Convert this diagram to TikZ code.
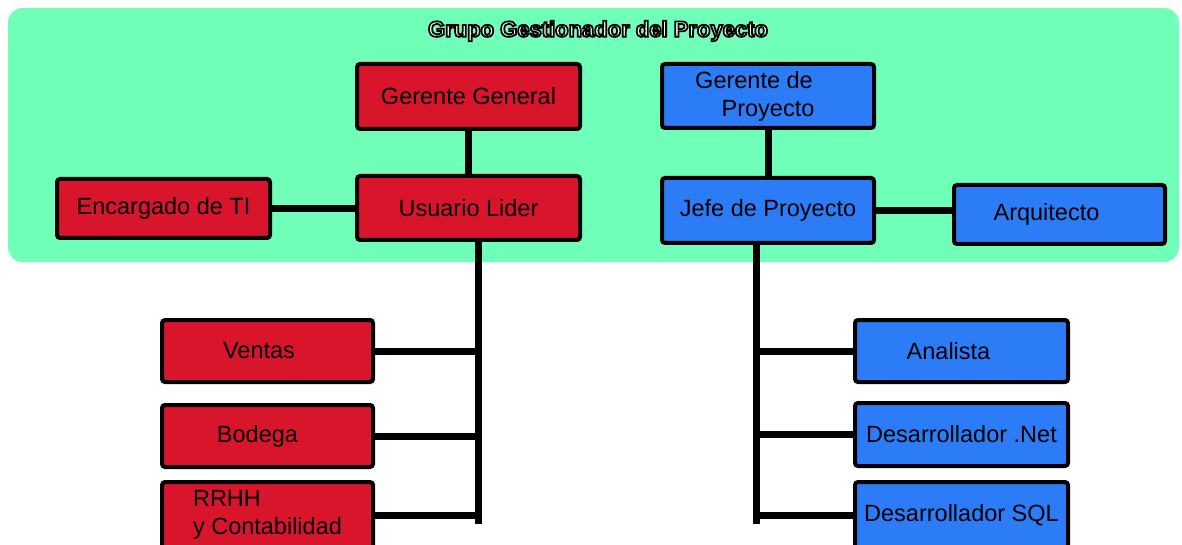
\documentclass[tikz,border=0pt]{standalone}
\usepackage{fontspec}
\setmainfont{Liberation Sans}
\newfontfamily\titlefont{Liberation Sans Bold}[RawFeature={embolden=8}]
\definecolor{grupo}{HTML}{6FFFB8}
\definecolor{rojo}{HTML}{D9152B}
\definecolor{azul}{HTML}{2B7CF6}

\begin{document}
\begin{tikzpicture}[x = 1pt, y = -1pt,
    box/.style = {draw = black, line width = 4pt, rounded corners = 3pt, inner sep = 0pt, align = center, font = \fontsize{23.5}{28}\selectfont},
    redbox/.style = {box, fill = rojo},
    bluebox/.style = {box, fill = azul},
    link/.style = {line width = 7pt}]
    \useasboundingbox (0,0) rectangle (1182,545);
    \fill[grupo, rounded corners = 15pt] (8,8) rectangle (1179,262);
    \node (grupo) at (598,31) {\titlefont\fontsize{22}{26}\selectfont\special{pdf:bcolor [1] [0]}Grupo Gestionador del Proyecto\special{pdf:ecolor}};
    \node[redbox, minimum width = 223pt, minimum height = 65pt] (gerente) at (468.5,96.5) {Gerente General};
    \node[redbox, minimum width = 223pt, minimum height = 64pt] (usuario) at (468.5,208) {Usuario Lider};
    \node[redbox, minimum width = 213pt, minimum height = 59pt] (encargado) at (163.5,208.5) {Encargado de TI};
    \node[redbox, minimum width = 211pt, minimum height = 62pt] (ventas) at (267.5,351) {Ventas\hspace*{17pt}};
    \node[redbox, minimum width = 211pt, minimum height = 62pt] (bodega) at (267.5,436) {Bodega\hspace*{20pt}};
    \node[redbox, minimum width = 211pt, minimum height = 66pt, align = left] (rrhh) at (267.5,515) {RRHH\\y Contabilidad};
    \node[bluebox, minimum width = 212pt, minimum height = 64pt] (gproyecto) at (768,96) {Gerente de\hspace*{28pt}\\Proyecto};
    \node[bluebox, minimum width = 212pt, minimum height = 65pt] (jefe) at (768,210.5) {Jefe de Proyecto};
    \node[bluebox, minimum width = 211pt, minimum height = 59pt] (arquitecto) at (1059.5,214.5) {Arquitecto\hspace*{26pt}};
    \node[bluebox, minimum width = 213pt, minimum height = 62pt] (analista) at (961.5,351) {Analista\hspace*{26pt}};
    \node[bluebox, minimum width = 213pt, minimum height = 63pt] (dnet) at (961.5,434.5) {Desarrollador .Net};
    \node[bluebox, minimum width = 213pt, minimum height = 66pt] (dsql) at (961.5,515) {Desarrollador SQL};
    \coordinate (ltronco) at (478,524);
    \coordinate (rtronco) at (756,524);
    \draw[link] (gerente) -- (usuario);
    \draw[link] (encargado.east) -- (encargado.east -| usuario.west);
    \draw[link] (usuario.south -| ltronco) -- (ltronco);
    \foreach \n in {ventas, bodega, rrhh}
        \draw[link] (\n.east) -- (\n.east -| ltronco);
    \draw[link] (gproyecto) -- (jefe);
    \draw[link] (jefe.east) -- (jefe.east -| arquitecto.west);
    \draw[link] (jefe.south -| rtronco) -- (rtronco);
    \foreach \n in {analista, dnet, dsql}
        \draw[link] (\n.west) -- (\n.west -| rtronco);
\end{tikzpicture}
\end{document}
